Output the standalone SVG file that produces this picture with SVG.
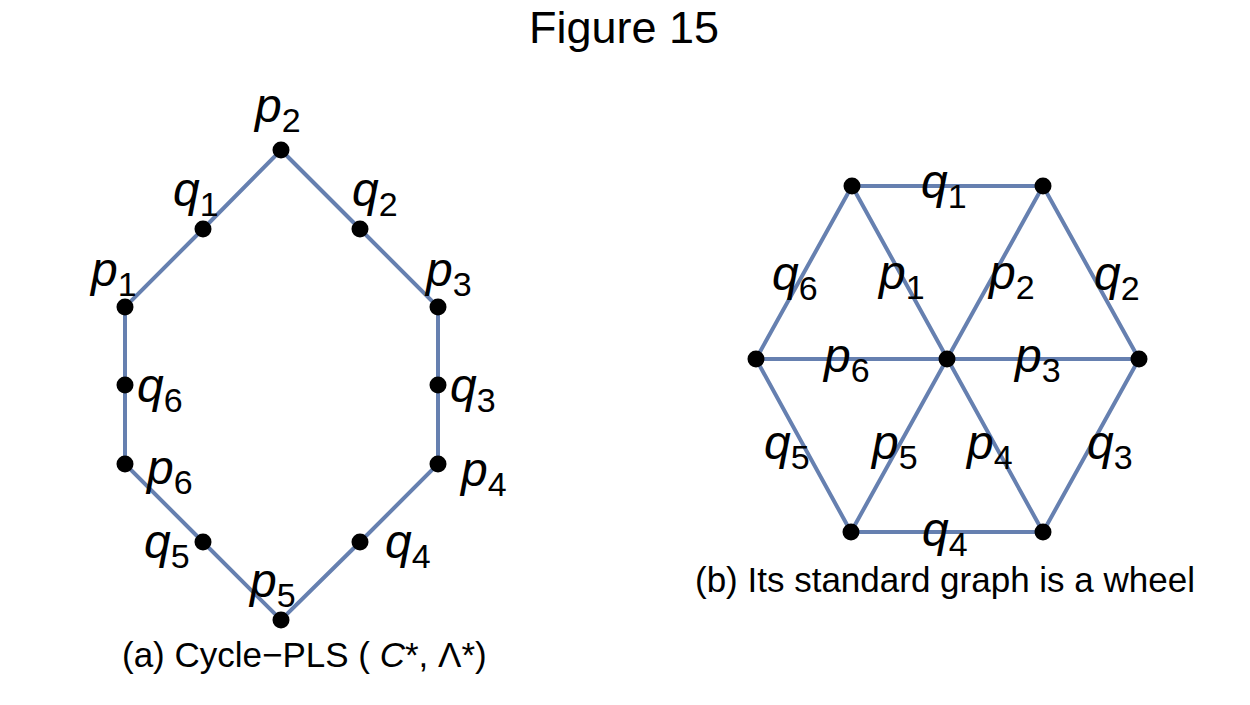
<svg xmlns="http://www.w3.org/2000/svg" width="1250" height="705" viewBox="0 0 1250 705">
<style>
.e{stroke:#6680B0;stroke-width:4;fill:none;stroke-linecap:round}
.d{fill:#000}
.lbl{font-family:"Liberation Sans",Arial,sans-serif;font-size:48px;font-style:italic;fill:#000}
.sub{font-size:34px;font-style:normal}
.cap{font-family:"Liberation Sans",Arial,sans-serif;font-size:35px;fill:#000}
.title{font-family:"Liberation Sans",Arial,sans-serif;font-size:45px;fill:#000}
</style>
<rect width="1250" height="705" fill="#fff"/>
<text class="title" x="624" y="43" text-anchor="middle">Figure 15</text>

<g id="connectors">
  <polygon class="e" points="281,150 360,229 438,307 438,385 438,464 360,542 281,620 203,542 125,464 125,385 125,307 203,229"/>
  <polygon class="e" points="852,186 1043,186 1139,359 1043,532 851,532 756,359"/>
  <line class="e" x1="852" y1="186" x2="1043" y2="532"/>
  <line class="e" x1="1043" y1="186" x2="851" y2="532"/>
  <line class="e" x1="756" y1="359" x2="1139" y2="359"/>
</g>

<g id="cycle">
  <g id="p2"><circle class="d" cx="281" cy="150" r="8.5"/><text class="lbl" x="255" y="122">p<tspan class="sub" dy="10">2</tspan></text></g>
  <g id="q1"><circle class="d" cx="203" cy="229" r="8.5"/><text class="lbl" x="173" y="206">q<tspan class="sub" dy="10">1</tspan></text></g>
  <g id="q2"><circle class="d" cx="360" cy="229" r="8.5"/><text class="lbl" x="352" y="206">q<tspan class="sub" dy="10">2</tspan></text></g>
  <g id="p1"><circle class="d" cx="125" cy="307" r="8.5"/><text class="lbl" x="91" y="286">p<tspan class="sub" dy="10">1</tspan></text></g>
  <g id="p3"><circle class="d" cx="438" cy="307" r="8.5"/><text class="lbl" x="426" y="286">p<tspan class="sub" dy="10">3</tspan></text></g>
  <g id="q6"><circle class="d" cx="125" cy="385" r="8.5"/><text class="lbl" x="137" y="402">q<tspan class="sub" dy="10">6</tspan></text></g>
  <g id="q3"><circle class="d" cx="438" cy="385" r="8.5"/><text class="lbl" x="450" y="402">q<tspan class="sub" dy="10">3</tspan></text></g>
  <g id="p6"><circle class="d" cx="125" cy="464" r="8.5"/><text class="lbl" x="147" y="484">p<tspan class="sub" dy="10">6</tspan></text></g>
  <g id="p4"><circle class="d" cx="438" cy="464" r="8.5"/><text class="lbl" x="461" y="486">p<tspan class="sub" dy="10">4</tspan></text></g>
  <g id="q5"><circle class="d" cx="203" cy="542" r="8.5"/><text class="lbl" x="144" y="558">q<tspan class="sub" dy="10">5</tspan></text></g>
  <g id="q4"><circle class="d" cx="360" cy="542" r="8.5"/><text class="lbl" x="385" y="558">q<tspan class="sub" dy="10">4</tspan></text></g>
  <g id="p5"><circle class="d" cx="281" cy="620" r="8.5"/><text class="lbl" x="250" y="597">p<tspan class="sub" dy="10">5</tspan></text></g>
</g>

<g id="wheel">
  <g id="w-tl"><circle class="d" cx="852" cy="186" r="8.5"/></g>
  <g id="w-tr"><circle class="d" cx="1043" cy="186" r="8.5"/></g>
  <g id="w-l"><circle class="d" cx="756" cy="359" r="8.5"/></g>
  <g id="w-c"><circle class="d" cx="947" cy="359" r="8.5"/></g>
  <g id="w-r"><circle class="d" cx="1139" cy="359" r="8.5"/></g>
  <g id="w-bl"><circle class="d" cx="851" cy="532" r="8.5"/></g>
  <g id="w-br"><circle class="d" cx="1043" cy="532" r="8.5"/></g>
</g>

<g id="edge-labels">
  <text class="lbl" x="921" y="198">q<tspan class="sub" dy="10">1</tspan></text>
  <text class="lbl" x="772" y="290">q<tspan class="sub" dy="10">6</tspan></text>
  <text class="lbl" x="879" y="289">p<tspan class="sub" dy="10">1</tspan></text>
  <text class="lbl" x="989" y="289">p<tspan class="sub" dy="10">2</tspan></text>
  <text class="lbl" x="1094" y="290">q<tspan class="sub" dy="10">2</tspan></text>
  <text class="lbl" x="824" y="372">p<tspan class="sub" dy="10">6</tspan></text>
  <text class="lbl" x="1015" y="372">p<tspan class="sub" dy="10">3</tspan></text>
  <text class="lbl" x="764" y="459">q<tspan class="sub" dy="10">5</tspan></text>
  <text class="lbl" x="872" y="459">p<tspan class="sub" dy="10">5</tspan></text>
  <text class="lbl" x="967" y="459">p<tspan class="sub" dy="10">4</tspan></text>
  <text class="lbl" x="1087" y="459">q<tspan class="sub" dy="10">3</tspan></text>
  <text class="lbl" x="922" y="546">q<tspan class="sub" dy="10">4</tspan></text>
</g>

<text class="cap" x="122" y="667">(a) Cycle−PLS ( <tspan font-style="italic">C</tspan>*, Λ*)</text>
<text class="cap" x="695" y="592">(b) Its standard graph is a wheel</text>
</svg>
